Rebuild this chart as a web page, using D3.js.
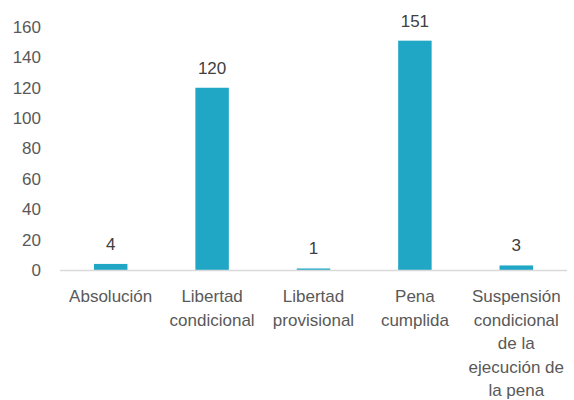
<!DOCTYPE html>
<html><head><meta charset="utf-8">
<script src="https://cdn.jsdelivr.net/npm/d3@7"></script>
<style>body{margin:0;background:#fff}svg{display:block}</style>
</head><body>
<script>
const categories = [["Absolución"],["Libertad","condicional"],["Libertad","provisional"],["Pena","cumplida"],["Suspensión","condicional","de la","ejecución de","la pena"]];
const values = [4,120,1,151,3];
const yTicks = [0,20,40,60,80,100,120,140,160];

const W=574,H=400;
const svg=d3.select("body").append("svg").attr("width",W).attr("height",H);
const font="'Liberation Sans', Arial, sans-serif";
const x=d3.scaleBand().domain(d3.range(values.length)).range([60,567]).paddingInner(0.67).paddingOuter(0.335);
const y=d3.scaleLinear().domain([0,160]).range([270,27]);

const gy=svg.append("g").attr("transform","translate(41,0)").call(d3.axisLeft(y).tickValues(yTicks).tickSize(0).tickPadding(0));
gy.select(".domain").remove();
gy.selectAll("text").attr("font-family",font).attr("font-size",17).attr("fill","#595959");

svg.selectAll("rect.bar").data(values).join("rect").attr("class","bar")
  .attr("x",(d,i)=>x(i)).attr("width",x.bandwidth())
  .attr("y",d=>y(d)).attr("height",d=>y(0)-y(d)).attr("fill","#21A7C6");

svg.append("line").attr("x1",60).attr("x2",567).attr("y1",y(0)+0.5).attr("y2",y(0)+0.5).attr("stroke","#d9d9d9").attr("stroke-width",1.5);

svg.selectAll("text.val").data(values).join("text").attr("class","val")
  .attr("x",(d,i)=>x(i)+x.bandwidth()/2).attr("y",d=>y(d)-14)
  .attr("text-anchor","middle").attr("font-family",font).attr("font-size",17).attr("fill","#404040").text(d=>d);

const lab=svg.selectAll("text.cat").data(categories).join("text").attr("class","cat")
  .attr("text-anchor","middle").attr("font-family",font).attr("font-size",17).attr("fill","#595959");
lab.each(function(lines,i){
  const t=d3.select(this);
  lines.forEach((l,j)=>t.append("tspan").attr("x",x(i)+x.bandwidth()/2).attr("y",302+j*23.5).text(l));
});
</script>
</body></html>
